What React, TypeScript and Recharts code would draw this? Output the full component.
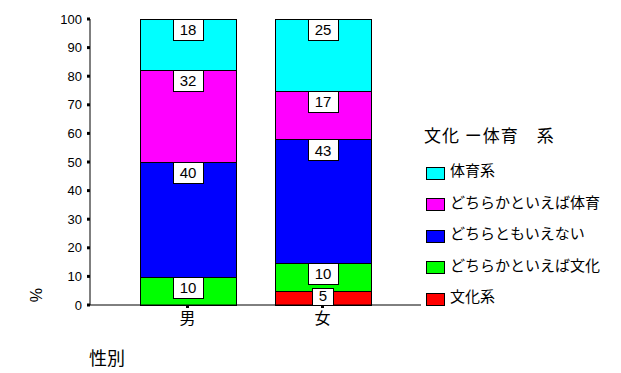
import { Bar, BarChart, LabelList, XAxis, YAxis } from "recharts";

const categories = ["男", "女"];
const bunkakei = [0, 4.6];
const dochiraBunka = [9.7, 9.9];
const dochiramo = [40.2, 43.2];
const dochiraTaiiku = [32.2, 17.0];
const taiikukei = [17.9, 25.3];
const yTicks = [0, 10, 20, 30, 40, 50, 60, 70, 80, 90, 100];

const seriesKeys = ["bunkakei", "dochiraBunka", "dochiramo", "dochiraTaiiku", "taiikukei"];
const seriesNames = ["文化系", "どちらかといえば文化", "どちらともいえない", "どちらかといえば体育", "体育系"];
const seriesColors = ["#ff0000", "#00ff00", "#0000ff", "#ff00ff", "#00ffff"];

const data = categories.map((name, i) => ({
  name,
  bunkakei: bunkakei[i],
  dochiraBunka: dochiraBunka[i],
  dochiramo: dochiramo[i],
  dochiraTaiiku: dochiraTaiiku[i],
  taiikukei: taiikukei[i],
}));

const jp = '"Noto Sans CJK JP", sans-serif';
const latin = '"Liberation Sans", Arial, sans-serif';

function BoxLabel(props: any) {
  const { x, y, width, height, value } = props;
  if (!value) return null;
  const text = String(Math.round(value));
  const w = text.length > 1 ? 30 : 21;
  const small = height < 21;
  const h = small ? 17 : 21;
  const top = small ? y + height - h : y;
  const cx = x + width / 2;
  return (
    <g>
      <rect x={cx - w / 2} y={top} width={w} height={h} fill="#fff" stroke="#000" shapeRendering="crispEdges" />
      <text
        x={cx}
        y={top + h / 2 - (small ? 1 : 0)}
        dy="0.36em"
        textAnchor="middle"
        fontSize={15}
        fontFamily={latin}
        fill="#000"
      >
        {text}
      </text>
    </g>
  );
}

export default function App() {
  const legendItems = seriesNames.map((n, i) => ({ name: n, color: seriesColors[i] })).reverse();
  return (
    <div style={{ position: "absolute", left: 0, top: 0, width: 621, height: 373, background: "#fff" }}>
      <BarChart width={621} height={373} data={data} margin={{ top: 19, right: 200, left: 0, bottom: 0 }}>
        <XAxis
          dataKey="name"
          height={68}
          padding={{ left: 30, right: 31 }}
          axisLine={{ stroke: "#000" }}
          tickLine={{ stroke: "#000", strokeWidth: 3 }}
          tickSize={3}
          tickMargin={5}
          tick={{ fontSize: 16, fontFamily: jp, fill: "#000" }}
        />
        <XAxis xAxisId="top" orientation="top" dataKey="name" height={0} tick={false} tickLine={false} axisLine={{ stroke: "#000" }} />
        <YAxis
          width={90}
          domain={[0, 100]}
          ticks={yTicks}
          interval={0}
          axisLine={{ stroke: "#000" }}
          tickLine={{ stroke: "#000", strokeWidth: 3 }}
          tickSize={3}
          tickMargin={5}
          tick={{ fontSize: 13, fontFamily: latin, fill: "#000" }}
        />
        <YAxis yAxisId="right" orientation="right" width={0} domain={[0, 100]} tick={false} tickLine={false} axisLine={{ stroke: "#000" }} />
        {seriesKeys.map((k, i) => (
          <Bar
            key={k}
            dataKey={k}
            name={seriesNames[i]}
            stackId="a"
            fill={seriesColors[i]}
            stroke="#000"
            barSize={96}
            isAnimationActive={false}
            shapeRendering="crispEdges"
          >
            <LabelList dataKey={k} content={BoxLabel} />
          </Bar>
        ))}
      </BarChart>

      <div
        style={{
          position: "absolute",
          left: 37 - 10,
          top: 295 - 10,
          width: 20,
          height: 20,
          lineHeight: "20px",
          textAlign: "center",
          fontSize: 16,
          fontFamily: latin,
          transform: "rotate(-90deg)",
        }}
      >
        %
      </div>
      <div style={{ position: "absolute", left: 89, top: 345, fontSize: 18, lineHeight: "24px", fontFamily: jp }}>性別</div>

      <div
        style={{
          position: "absolute",
          left: 424,
          top: 123,
          fontSize: 17,
          lineHeight: "24px",
          fontFamily: jp,
          letterSpacing: 1,
          whiteSpace: "pre",
        }}
      >
        {"文化 ー体育　系"}
      </div>
      {legendItems.map((item, i) => {
        const cy = 170 + i * 31.6;
        return (
          <div key={item.name}>
            <div
              style={{
                position: "absolute",
                left: 426,
                top: Math.round(cy + 2.5 - 6),
                width: 17,
                height: 11,
                background: item.color,
                border: "1px solid #000",
              }}
            />
            <div
              style={{
                position: "absolute",
                left: 450,
                top: Math.round(cy - 11),
                height: 22,
                lineHeight: "22px",
                fontSize: 15,
                fontFamily: jp,
                whiteSpace: "nowrap",
              }}
            >
              {item.name}
            </div>
          </div>
        );
      })}
    </div>
  );
}
